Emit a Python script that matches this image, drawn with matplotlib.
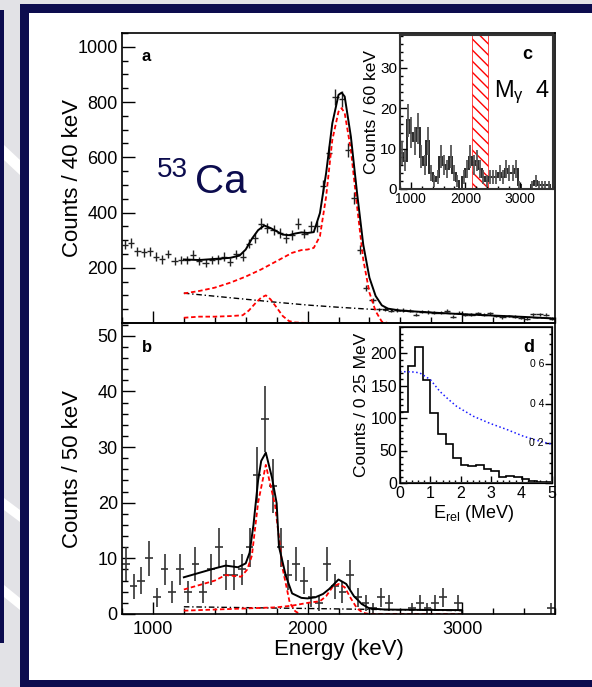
import numpy as np
import matplotlib.pyplot as plt
from matplotlib.patches import Rectangle, Polygon
from matplotlib.ticker import MultipleLocator
import matplotlib.transforms as mtransforms

plt.rcParams['font.family'] = ['Liberation Sans', 'DejaVu Sans']
plt.rcParams['mathtext.fontset'] = 'custom'
plt.rcParams['mathtext.rm'] = 'Liberation Sans'
plt.rcParams['mathtext.it'] = 'Liberation Sans:italic'
plt.rcParams['mathtext.bf'] = 'Liberation Sans:bold'
plt.rcParams['hatch.linewidth'] = 1.0

# ---- panel a : gamma spectrum, 40 keV bins ----
a_E = np.arange(820, 3600, 40)
a_counts = [284, 290, 260, 256, 260, 240, 230, 250, 224, 227,
            227, 248, 224, 218, 227, 230, 240, 222, 249, 240,
            287, 308, 360, 344, 336, 326, 308, 320, 360, 324,
            350, 350, 495, 617, 817, 812, 627, 453, 266, 128,
            83, 49, 50, 45, 46, 48, 45, 30, 41, 40,
            38, 38, 45, 23, 38, 30, 30, 35, 30, 35,
            25, 20, 25, 23, 19, 16, 32, 32, 30, 16]

a_fit_E = [1200, 1300, 1400, 1500, 1560, 1600, 1640, 1680, 1720, 1760, 1800, 1840,
           1880, 1920, 1960, 2000, 2040, 2080, 2120, 2160, 2200, 2220, 2240, 2280,
           2320, 2360, 2400, 2440, 2480, 2520, 2600, 2800, 3000, 3200, 3400, 3600]
a_fit_total = [230, 228, 232, 236, 244, 266, 305, 336, 353, 344, 332, 320,
               318, 324, 328, 326, 329, 398, 543, 723, 826, 834, 820, 675,
               471, 284, 164, 98, 64, 52, 45, 38, 32, 27, 22, 16]
a_bg_E = [1200, 1400, 1600, 1800, 2000, 2200, 2400, 2600, 2800, 3000, 3200, 3400, 3600]
a_bg = [108, 97, 86, 75, 65, 57, 50, 44, 38, 32, 27, 21, 16]
a_p2_E = [1200, 1300, 1400, 1500, 1600, 1700, 1800, 1900, 1960, 2000, 2040, 2080,
          2120, 2160, 2200, 2220, 2240, 2280, 2320, 2360, 2400, 2440, 2480, 2520]
a_p2 = [107, 116, 128, 146, 168, 194, 224, 254, 264, 266, 272, 314,
        458, 663, 765, 778, 760, 627, 422, 230, 110, 43, 5, 0]
a_p1_E = [1200, 1300, 1400, 1500, 1580, 1620, 1660, 1700, 1730, 1760, 1800, 1840,
          1880, 1920, 2000, 2100]
a_p1 = [19, 23, 23, 25, 28, 45, 70, 92, 100, 86, 56, 25, 7, 2, 0, 0]

# ---- panel b : 50 keV bins ----
b_E = np.arange(825, 3600, 50)
b_counts = [9, 5, 6, 10, 3, 8, 4, 8, 4, 9, 4, 8, 12, 7, 7, 8, 12, 25, 35, 23,
            12, 7, 9, 6, 3, 2, 9, 5, 4, 7, 3, 2, 1, 3, 2, 0, 0, 1, 2, 1,
            2, 3, 0, 2, 0, 0, 0, 0, 0, 0, 0, 0, 0, 0, 0, 1]

b_fit_E = [1200, 1300, 1400, 1470, 1550, 1600, 1625, 1650, 1680, 1700, 1730, 1770,
           1800, 1815, 1860, 1900, 1960, 2000, 2050, 2100, 2140, 2200, 2250, 2300,
           2350, 2400, 2500, 2700, 3000, 3000]
b_fit_total = [6.6, 7.4, 8.2, 8.7, 8.4, 9.1, 11.0, 16.0, 24.0, 27.5, 29.0, 24.5,
               19.9, 12.1, 6.8, 3.7, 2.9, 2.8, 3.0, 3.6, 4.5, 6.2, 5.4, 3.2,
               1.8, 1.0, 0.8, 0.75, 0.7, 0.0]
b_p1_E = [1200, 1300, 1400, 1470, 1570, 1610, 1640, 1680, 1730, 1790, 1840, 1885, 1920, 1950]
b_p1 = [4.4, 5.2, 6.0, 7.0, 6.7, 8.0, 10.5, 20.0, 26.8, 19.5, 8.0, 2.0, 0.5, 0.0]
b_p2_E = [1200, 1500, 1800, 1900, 2000, 2080, 2120, 2160, 2200, 2240, 2280, 2320, 2360, 2400, 3000]
b_p2 = [0.6, 0.9, 1.2, 1.5, 2.0, 2.3, 3.2, 4.8, 5.4, 4.8, 2.8, 1.0, 0.2, 0.0, 0.0]
b_bg_E = [1200, 3000]
b_bg = [1.3, 0.6]

# ---- inset c : M_gamma >= 4, 60 keV bins ----
c_edges = np.arange(800, 3561, 60)
c_counts = [9, 7, 17, 14, 12, 15, 8, 6, 12, 4, 2, 3, 8, 6, 5, 8, 4, 2, 0, 3,
            5, 8, 6, 7, 5, 3, 2, 3, 3, 3, 4, 3, 5, 4, 4, 5, 1, 0, 0, 0,
            1, 2, 1, 1, 1, 1]
c_gate = (2120, 2420)

# ---- inset d : relative energy ----
d_edges = np.arange(0, 5.01, 0.25)
d_counts = [110, 180, 209, 159, 107, 76, 60, 39, 27, 26,
            28, 21, 19, 9, 11, 9, 6, 3, 2, 1]
d_eff_E = [0, 0.25, 0.5, 0.66, 1.0, 1.31, 1.6, 1.86, 2.41, 2.96, 3.5, 4.05, 4.6, 5.0]
d_eff = [0.56, 0.56, 0.558, 0.553, 0.52, 0.461, 0.42, 0.386, 0.336, 0.30, 0.27, 0.236, 0.21, 0.195]

NAVY = '#0c0c4e'
W, H = 592, 687


def box(l, t, r, b):
    return [l / W, 1 - b / H, (r - l) / W, (b - t) / H]


def ftext(x, y, s, **kw):
    return fig.text(x / W, 1 - y / H, s, **kw)


def rect(l, t, r, b, color, z):
    fig.add_artist(Rectangle((l / W, 1 - b / H), (r - l) / W, (b - t) / H,
                             transform=fig.transFigure, facecolor=color,
                             edgecolor='none', zorder=z))


def style(ax, xmaj, xmin, ymaj, ymin, L=9.0, fs=13, lw=1.2):
    ax.xaxis.set_major_locator(MultipleLocator(xmaj))
    ax.xaxis.set_minor_locator(MultipleLocator(xmin))
    ax.yaxis.set_major_locator(MultipleLocator(ymaj))
    ax.yaxis.set_minor_locator(MultipleLocator(ymin))
    ax.tick_params(which='both', direction='in', top=False, right=False,
                   labelsize=fs, width=1)
    ax.tick_params(which='major', length=L)
    ax.tick_params(which='minor', length=L / 2)
    for s in ax.spines.values():
        s.set_linewidth(lw)


fig = plt.figure(figsize=(W / 100, H / 100), dpi=100)
fig.patch.set_facecolor('#e2e2e6')

# slide background
for poly in ([(4, 145), (20, 160), (20, 175), (4, 160)],
             [(4, 498), (20, 510), (20, 522), (4, 510)],
             [(4, 585), (20, 598), (20, 610), (4, 597)]):
    fig.add_artist(Polygon([(x / W, 1 - y / H) for x, y in poly], closed=True,
                           transform=fig.transFigure, facecolor='white',
                           edgecolor='none', zorder=-9))
rect(0, 10, 4, 643, NAVY, -8)
rect(20, 4, W, H, NAVY, -7)
rect(29, 13, W, 680, 'white', -6)

# ---------------- panel a ----------------
axa = fig.add_axes(box(122, 33, 555, 323))
axa.set_facecolor('none')
axa.set_xlim(800, 3600)
axa.set_ylim(0, 1050)
style(axa, 1000, 200, 200, 50)
axa.set_yticks([200, 400, 600, 800, 1000])
axa.tick_params(axis='x', labelbottom=False)
axa.tick_params(axis='y', pad=3)
axa.errorbar(a_E, a_counts, xerr=20, yerr=np.sqrt(a_counts), fmt='none',
             ecolor='#222222', elinewidth=1.0)
axa.plot(a_bg_E, a_bg, color='k', lw=1.0, dashes=(4, 2, 1, 2))
axa.plot(a_p2_E, a_p2, color='red', lw=1.3, dashes=(2.5, 1.5))
axa.plot(a_p1_E, a_p1, color='red', lw=1.3, dashes=(2.5, 1.5))
axa.plot(a_fit_E, a_fit_total, color='k', lw=1.4)

# ---------------- panel b ----------------
axb = fig.add_axes(box(122, 323, 555, 614))
axb.set_facecolor('none')
axb.set_xlim(800, 3600)
axb.set_ylim(0, 52.3)
style(axb, 1000, 200, 10, 2)
axb.tick_params(axis='y', pad=3)
axb.tick_params(axis='x', pad=5)
bc = np.array(b_counts, dtype=float)
m = bc > 0
axb.errorbar(b_E[m], bc[m], xerr=25, yerr=np.sqrt(bc[m]), fmt='none',
             ecolor='#333333', elinewidth=1.2)
axb.plot(b_bg_E, b_bg, color='k', lw=1.0, dashes=(4, 2, 1, 2))
axb.plot(b_p2_E, b_p2, color='red', lw=1.3, dashes=(2.5, 1.5))
axb.plot(b_p1_E, b_p1, color='red', lw=1.3, dashes=(2.5, 1.5))
axb.plot(b_fit_E, b_fit_total, color='k', lw=1.4)

# ---------------- inset c ----------------
axc = fig.add_axes(box(400, 34.5, 552.5, 189), zorder=2)
axc.set_xlim(800, 3600)
axc.set_ylim(0, 38.3)
style(axc, 1000, 200, 10, 2, L=5, fs=11, lw=1.5)
axc.tick_params(axis='x', labelsize=10, pad=2)
axc.tick_params(axis='y', pad=2)
axc.axvspan(c_gate[0], c_gate[1], facecolor='none', edgecolor='red',
            hatch='\\\\\\', lw=0.5)
cc = np.array(c_counts, dtype=float)
cx = 0.5 * (c_edges[:-1] + c_edges[1:])
axc.stairs(cc, c_edges, color='#2a2a2a', lw=1.4)
mc = cc > 0
axc.errorbar(cx[mc], cc[mc], yerr=np.sqrt(cc[mc]), fmt='none',
             ecolor='#555555', elinewidth=1.3)
for s in axc.spines.values():
    s.set_color('#333333')

# ---------------- inset d ----------------
axd = fig.add_axes(box(400, 327, 552, 483), zorder=2)
axd.set_xlim(0, 5)
axd.set_ylim(0, 240)
style(axd, 1, 0.2, 50, 10, L=5, fs=11.5, lw=1.5)
axd.tick_params(axis='both', pad=2)
axd.stairs(d_counts, d_edges, color='k', lw=1.2)
for s in axd.spines.values():
    s.set_color('#333333')
axd2 = axd.twinx()
axd2.set_ylim(0, 0.785)
axd2.yaxis.set_major_locator(MultipleLocator(0.2))
axd2.yaxis.set_minor_locator(MultipleLocator(0.05))
axd2.tick_params(which='both', direction='in', labelright=False, width=1)
axd2.tick_params(which='major', length=5)
axd2.tick_params(which='minor', length=2.5)
axd2.plot(d_eff_E, d_eff, color='#1a1aff', lw=1.1, ls=':')
tr = mtransforms.blended_transform_factory(axd2.transAxes, axd2.transData)
for v, lab in ((0.2, '0 2'), (0.4, '0 4'), (0.6, '0 6')):
    axd2.text(0.947, v, lab, transform=tr, ha='right', va='center', fontsize=7.5)

# ---------------- texts ----------------
ftext(72, 178, 'Counts / 40 keV', rotation=90, ha='center', va='center', fontsize=16)
ftext(72, 469, 'Counts / 50 keV', rotation=90, ha='center', va='center', fontsize=16)
ftext(339, 649, 'Energy (keV)', ha='center', va='center', fontsize=16)
ftext(372, 112, 'Counts / 60 keV', rotation=90, ha='center', va='center', fontsize=12.5)
ftext(362, 405, 'Counts / 0 25 MeV', rotation=90, ha='center', va='center', fontsize=12.5)
ftext(474, 513, r'E$_{\mathrm{rel}}$ (MeV)', ha='center', va='center', fontsize=13)
ftext(142, 61, 'a', fontsize=12, fontweight='bold', va='baseline')
ftext(142, 352, 'b', fontsize=12, fontweight='bold', va='baseline', zorder=4)
ftext(522, 59, 'c', fontsize=13, fontweight='bold', va='baseline', zorder=4)
ftext(523, 352, 'd', fontsize=13, fontweight='bold', va='baseline', zorder=4)
ftext(157, 177, '53', fontsize=20, color=NAVY, va='baseline')
ftext(195, 193, 'Ca', fontsize=29, color=NAVY, va='baseline')
ftext(494, 97, r'M$_{\mathrm{\gamma}}$  4', fontsize=17, va='baseline', zorder=4)

fig.savefig('out.png', dpi=100)
